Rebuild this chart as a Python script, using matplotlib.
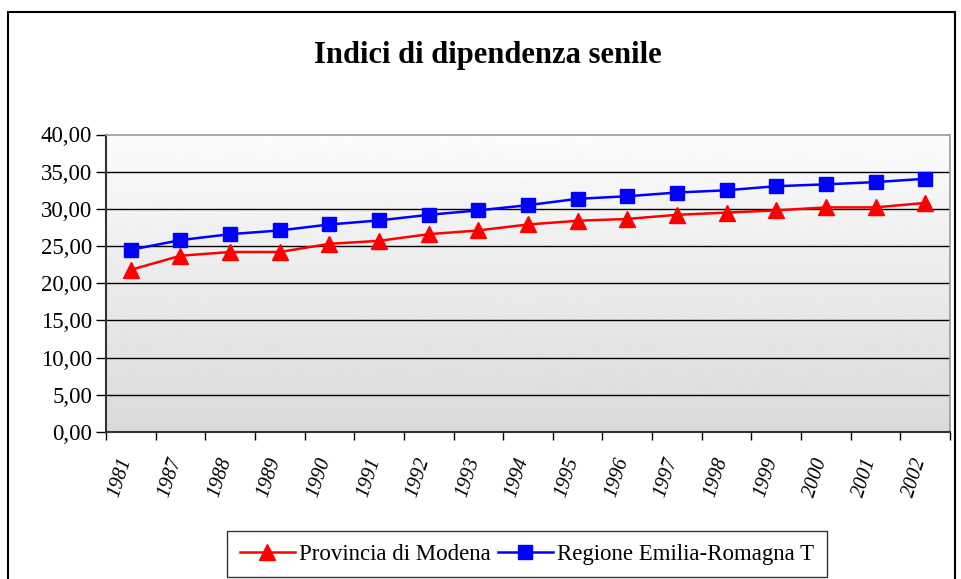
import numpy as np
import matplotlib.pyplot as plt
import matplotlib.transforms as mtrans
from matplotlib.patches import Rectangle

plt.rcParams["font.family"] = ["Liberation Serif", "DejaVu Serif"]

anni = ["1981", "1987", "1988", "1989", "1990", "1991", "1992", "1993", "1994",
        "1995", "1996", "1997", "1998", "1999", "2000", "2001", "2002"]
modena = [21.8, 23.7, 24.2, 24.2, 25.3, 25.7, 26.6, 27.1, 27.9,
          28.4, 28.65, 29.2, 29.5, 29.8, 30.2, 30.2, 30.8]
regione = [24.5, 25.8, 26.6, 27.1, 27.9, 28.45, 29.2, 29.8, 30.5,
           31.35, 31.7, 32.2, 32.5, 33.05, 33.3, 33.6, 34.05]

W, H = 962, 579
fig = plt.figure(figsize=(W / 100, H / 100), dpi=100)

# cornice esterna
fig.patches.append(Rectangle((8 / W, -0.05), (955 - 8) / W, 1.05 - 12 / H,
                             transform=fig.transFigure, fill=False,
                             edgecolor="black", linewidth=1.5))

x0, x1, y0, y1 = 106, 950, 134.5, 432
ax = fig.add_axes([x0 / W, 1 - y1 / H, (x1 - x0) / W, (y1 - y0) / H])

n = len(anni)
x = np.arange(n)
ax.set_xlim(-0.5, n - 0.5)
ax.set_ylim(0, 40)

# sfondo sfumato
grad = np.linspace(0.985, 0.855, 256).reshape(-1, 1)
ax.imshow(grad, cmap="gray", vmin=0, vmax=1, aspect="auto",
          extent=(-0.5, n - 0.5, 0, 40), zorder=0)

for v in range(5, 40, 5):
    ax.axhline(v, color="black", linewidth=1, zorder=1)

ax.plot(x, modena, color="red", marker="^", markersize=11, linewidth=1.8,
        label="Provincia di Modena", zorder=3)
ax.plot(x, regione, color="blue", marker="s", markersize=10, linewidth=1.8,
        label="Regione Emilia-Romagna T", zorder=3)

ax.set_yticks(np.arange(0, 41, 5))
ax.set_yticklabels([f"{v:.2f}".replace(".", ",") for v in range(0, 41, 5)],
                   fontsize=16.5)
ax.set_xticks(np.arange(-0.5, n, 1), minor=False)
ax.set_xticklabels([])
ax.tick_params(axis="x", length=6, width=1, direction="out")
ax.tick_params(axis="y", length=7, width=1, direction="out", pad=3)
ax.set_xticks(x, minor=True)
ax.set_xticklabels(anni, minor=True, rotation=72, fontsize=14.5, style="italic",
                   ha="right", rotation_mode="default")
ax.tick_params(axis="x", which="minor", length=0, pad=17)
sposta = mtrans.ScaledTranslation(5 / 100, 0, fig.dpi_scale_trans)
for lab in ax.get_xticklabels(minor=True):
    lab.set_transform(lab.get_transform() + sposta)

for s in ["left", "bottom"]:
    ax.spines[s].set_color("#333333")
    ax.spines[s].set_linewidth(1.5)
for s in ["top", "right"]:
    ax.spines[s].set_color("#999999")
    ax.spines[s].set_linewidth(1.2)

fig.text(488 / W, 1 - 55 / H, "Indici di dipendenza senile", ha="center",
         va="center", fontsize=22, fontweight="bold")

leg = fig.legend(loc="center", bbox_to_anchor=(527 / W, 1 - 554 / H),
                 ncol=2, fontsize=16.5, frameon=True, fancybox=False,
                 edgecolor="black", handlelength=2.4, columnspacing=0.3,
                 handletextpad=0.2, borderpad=0.55)
leg.get_frame().set_linewidth(1)

fig.savefig("out.png", dpi=100)
